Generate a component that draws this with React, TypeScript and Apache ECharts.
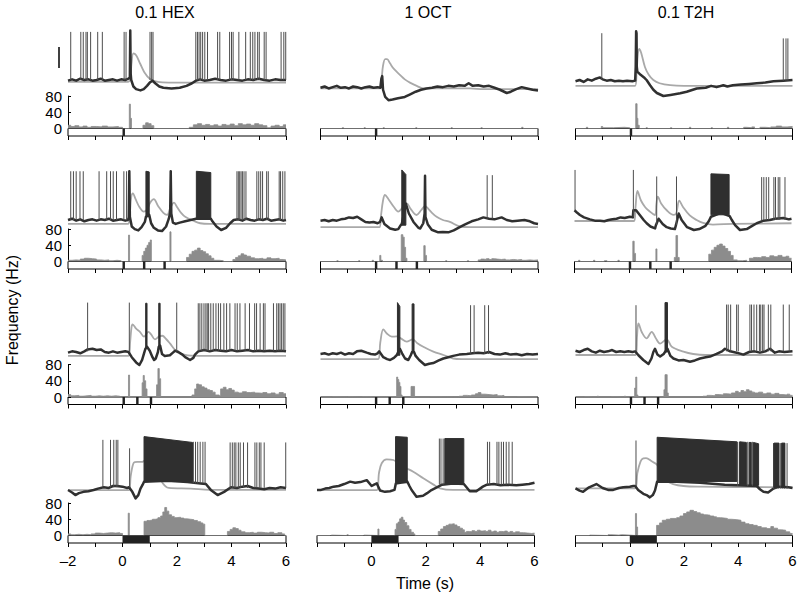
import React, { useEffect, useRef } from 'react';
import * as echarts from 'echarts';

// ---------------- data ----------------
const columnTitles = ['0.1 HEX', '1 OCT', '0.1 T2H'];
const xTicks = [-2, -1, 0, 1, 2, 3, 4, 5, 6];
const histTicks = [0, 40, 80];

// stimulus pulses per row: [start, end] in s
const stimRow1 = [[0, 0.09]];
const stimRow2 = [[0, 0.09], [0.75, 0.84], [1.5, 1.59]];
const stimRow3 = [[0, 0.09], [0.5, 0.59], [1.0, 1.09]];
const stimRow4 = [[0, 1.0]];

// ---- Row 1 ----
const hexR1Vm = [[-2,19],[-1.85,21],[-1.7,19],[-1.55,22],[-1.4,20],[-1.25,21],[-1.1,19],[-0.95,20],[-0.8,22],[-0.65,19],[-0.5,20],[-0.35,21],[-0.2,19],[-0.05,21],[0.1,20],[0.22,22],[0.27,24],[0.285,96],[0.3,30],[0.32,20],[0.4,10],[0.5,6],[0.66,4],[0.78,6],[0.9,11],[1.0,16],[1.1,19],[1.2,15],[1.35,10],[1.5,8],[1.8,7],[2.1,8],[2.35,11],[2.55,15],[2.7,19],[2.85,21],[3.0,19],[3.2,20],[3.4,22],[3.6,20],[3.8,19],[4.0,21],[4.2,20],[4.4,19],[4.6,21],[4.8,20],[5.0,22],[5.2,20],[5.4,19],[5.6,21],[5.8,20],[6,20]];
const hexR1Ca = [[-2,17],[0.2,17],[0.28,22],[0.33,45],[0.4,61],[0.5,58],[0.65,45],[0.8,32],[1.0,22],[1.3,17],[1.7,16],[2.5,16],[6,16]];
const hexR1Spikes = [{ v: [20, 94], t: [-1.9,-1.53,-1.44,-1.34,-1.29,-1.17,-0.91,-0.74,0.06,0.13,1.01,1.07,1.12,2.69,2.75,2.81,2.87,2.94,3.02,3.12,3.49,3.57,3.93,4.0,4.06,4.27,4.52,4.69,4.78,4.86,4.96,5.02,5.2,5.27,5.82,5.92,5.99] }];
const hexR1Bursts: number[][] = [];
const hexR1Hist = [[-2,8],[-1.9,5],[-1.75,7],[-1.6,4],[-1.45,6],[-1.3,3],[-1.15,5],[-0.95,4],[-0.75,6],[-0.55,4],[-0.35,5],[-0.15,3],[0.0,0],[0.25,60],[0.29,25],[0.33,0],[0.75,8],[0.85,14],[0.95,12],[1.05,7],[1.15,0],[2.45,3],[2.6,9],[2.75,12],[2.9,8],[3.05,10],[3.2,7],[3.35,9],[3.5,6],[3.65,10],[3.8,8],[3.95,11],[4.1,7],[4.25,12],[4.4,9],[4.55,11],[4.7,8],[4.85,12],[5.0,9],[5.15,7],[5.3,2],[5.45,6],[5.6,8],[5.75,5],[5.9,9],[6,9]];

const octR1Vm = [[-2,8],[-1.85,10],[-1.7,7],[-1.55,9],[-1.4,11],[-1.25,8],[-1.1,9],[-0.95,7],[-0.8,10],[-0.65,9],[-0.5,7],[-0.35,9],[-0.2,10],[-0.05,8],[0.1,9],[0.2,8],[0.24,22],[0.27,26],[0.3,5],[0.38,-6],[0.5,-11],[0.65,-10],[0.85,-8],[1.1,-6],[1.3,-2],[1.5,2],[1.7,5],[1.9,7],[2.1,8],[2.3,10],[2.5,9],[2.7,11],[2.9,10],[3.1,12],[3.3,11],[3.45,15],[3.6,11],[3.8,12],[4.0,10],[4.2,11],[4.4,8],[4.6,5],[4.85,0],[5.0,2],[5.2,6],[5.4,9],[5.6,7],[5.8,5],[6,4]];
const octR1Ca = [[-2,7],[0.2,7],[0.25,22],[0.3,42],[0.38,52],[0.45,52],[0.55,46],[0.7,37],[0.92,28],[1.1,21],[1.29,16],[1.54,11],[1.78,7],[3.5,7],[4.0,6],[6,6]];
const octR1Spikes: { v: number[]; t: number[] }[] = [];
const octR1Bursts: number[][] = [];
const octR1Hist = [[-2,0],[-1.2,2],[-1.15,0],[-0.4,2],[-0.35,0],[0.3,2],[0.35,0],[1.5,2],[1.55,0],[2.8,2],[2.85,0],[3.9,2],[3.95,0],[5.4,3],[5.45,0],[6,0]];

const t2hR1Vm = [[-2,18],[-1.85,20],[-1.7,17],[-1.55,21],[-1.4,19],[-1.25,22],[-1.1,24],[-1.0,21],[-0.85,19],[-0.7,20],[-0.55,18],[-0.4,19],[-0.25,18],[-0.1,19],[0.1,18],[0.2,19],[0.22,40],[0.235,95],[0.25,92],[0.26,40],[0.28,33],[0.4,28],[0.55,23],[0.62,20],[0.75,12],[0.87,5],[1.0,0],[1.24,-4.6],[1.5,-3],[1.86,-0.5],[2.1,2],[2.47,7],[2.8,8],[3.0,11],[3.2,9],[3.45,12],[3.6,10],[3.8,12],[4.1,13],[4.4,14],[4.68,15],[5.0,16],[5.3,18],[5.66,19],[6,20]];
const t2hR1Ca = [[-2,11],[0.2,11],[0.25,30],[0.3,60],[0.35,68],[0.42,62],[0.56,40],[0.7,28],[0.87,20],[1.1,15],[1.49,12],[2,11],[6,11]];
const t2hR1Spikes = [{ v: [20, 92], t: [-1.03] }, { v: [19, 84], t: [5.66, 5.76, 5.83] }];
const t2hR1Bursts: number[][] = [];
const t2hR1Hist = [[-2,0],[-1.6,3],[-1.55,0],[-1.05,5],[-1.0,2],[-0.6,3],[-0.2,2],[0,0],[0.22,61],[0.27,25],[0.3,8],[0.35,0],[0.6,2],[0.65,0],[1.5,2],[1.55,0],[2.2,3],[2.25,0],[3.0,2],[3.05,0],[3.6,3],[3.65,0],[4.2,3],[4.3,2],[4.5,4],[4.6,0],[4.8,3],[5.0,2],[5.2,4],[5.4,6],[5.6,4],[5.8,5],[6,5]];

// ---- Row 2 ----
const hexR2Vm = [[-2,20],[-1.85,22],[-1.7,19],[-1.55,21],[-1.4,18],[-1.25,20],[-1.1,21],[-0.95,19],[-0.8,21],[-0.65,20],[-0.5,22],[-0.35,19],[-0.2,20],[-0.05,21],[0.1,19],[0.2,20],[0.23,24],[0.25,95],[0.27,25],[0.34,10],[0.45,6],[0.58,4],[0.7,9],[0.82,17],[0.86,25],[0.98,28],[1.05,15],[1.15,8],[1.3,4],[1.45,3],[1.6,10],[1.7,22],[1.75,32],[1.77,95],[1.79,30],[1.85,16],[1.95,14],[2.1,16],[2.3,18],[2.5,20],[2.7,22],[3.24,22],[3.3,18],[3.45,10],[3.62,4.6],[3.8,8],[3.95,15],[4.08,20],[4.25,21],[4.4,19],[4.55,22],[4.7,20],[4.85,19],[5.0,21],[5.15,20],[5.3,22],[5.45,19],[5.6,20],[5.75,21],[5.9,19],[6,20]];
const hexR2Ca = [[-2,14],[0.2,14],[0.26,25],[0.32,55],[0.38,61],[0.48,52],[0.62,40],[0.78,33],[0.9,36],[1.02,47],[1.15,52],[1.3,42],[1.5,31],[1.64,28],[1.75,38],[1.89,46.7],[2.0,40],[2.15,31],[2.3,25],[2.6,19],[2.85,15],[3.2,14],[6,14]];
const hexR2Spikes = [{ v: [20, 95], t: [-1.9,-1.8,-1.7,-1.56,-1.44,-0.86,-0.58,-0.44,-0.34,-0.22,0.05,0.15,4.2,4.25,4.3,4.35,4.4,4.46,4.53,4.93,5.0,5.07,5.14,5.29,5.35,5.75,5.8,5.88,5.96] }];
const hexR2Bursts = [[0.86,0.98,25,95,94],[2.71,3.24,22,95,93]];
const hexR2Hist = [[-2,3],[-1.85,4],[-1.7,3],[-1.55,6],[-1.4,8],[-1.25,7],[-1.1,6],[-0.95,4],[-0.8,3],[-0.65,4],[-0.5,2],[-0.35,3],[-0.2,2],[-0.05,0],[0.22,65],[0.26,0],[0.72,15],[0.78,25],[0.84,33],[0.9,40],[0.96,47],[1.02,53],[1.06,0],[1.74,73],[1.78,0],[2.35,10],[2.45,18],[2.55,25],[2.65,28],[2.75,33],[2.85,27],[2.95,24],[3.05,19],[3.15,14],[3.25,8],[3.35,3],[3.55,2],[3.7,0],[4.05,5],[4.15,10],[4.25,14],[4.35,19],[4.45,16],[4.55,13],[4.7,9],[4.85,7],[5.0,8],[5.15,6],[5.3,9],[5.45,7],[5.6,8],[5.75,5],[5.9,4],[6,4]];

const octR2Vm = [[-2,19],[-1.85,20],[-1.7,18],[-1.55,20],[-1.4,19],[-1.25,21],[-1.1,22],[-0.95,24],[-0.8,23],[-0.65,25],[-0.5,21],[-0.35,17],[-0.2,16],[-0.05,17],[0.1,15],[0.19,17],[0.25,24],[0.35,14],[0.56,7],[0.75,5],[0.86,6],[0.95,12],[0.99,14],[1.14,45],[1.25,30],[1.42,17],[1.6,8],[1.67,7],[1.78,15],[1.83,30],[1.845,88],[1.86,25],[1.95,13],[2.09,5],[2.33,1],[2.5,1.5],[2.7,1],[2.9,4],[3.07,8],[3.3,13],[3.56,18],[3.8,21],[3.99,24],[4.2,22],[4.4,21],[4.66,24],[4.85,20],[5.05,18],[5.25,19],[5.5,20],[5.7,18],[5.86,15],[6,14]];
const octR2Ca = [[-2,9],[0.17,9],[0.22,25],[0.3,50],[0.37,58.5],[0.5,52],[0.7,40],[0.86,33],[0.98,37],[1.08,44],[1.17,45.6],[1.3,38],[1.53,27.7],[1.7,35],[1.84,41.5],[1.95,38],[2.1,31],[2.27,25],[2.5,20],[2.76,17],[3.13,10],[3.5,9],[6,9]];
const octR2Spikes = [{ v: [22, 89], t: [4.13, 4.32] }];
const octR2Bursts = [[0.99,1.14,12,97,90]];
const octR2Hist = [[-2,0],[-1.4,2],[-1.35,0],[-0.6,2],[-0.55,0],[-0.1,3],[-0.05,0],[0.18,15],[0.22,3],[0.28,0],[0.97,66],[1.03,60],[1.08,35],[1.13,8],[1.18,0],[1.8,39],[1.85,15],[1.9,0],[2.6,2],[2.65,0],[3.4,2],[3.45,0],[3.8,4],[3.9,6],[4.0,5],[4.1,7],[4.2,5],[4.3,7],[4.4,6],[4.5,5],[4.65,6],[4.8,4],[4.95,5],[5.1,4],[5.25,5],[5.4,3],[5.55,4],[5.7,3],[5.85,4],[6,4]];

const t2hR2Vm = [[-2,35],[-1.9,31],[-1.8,27.7],[-1.65,24],[-1.43,21],[-1.25,19],[-1.06,19],[-0.9,18],[-0.75,20],[-0.6,21],[-0.45,22],[-0.3,24],[-0.15,23],[0.04,25],[0.15,24],[0.17,35],[0.27,35],[0.4,28],[0.55,20],[0.66,15],[0.8,10],[0.97,7],[1.0,12],[1.1,22],[1.25,14],[1.4,9],[1.55,7],[1.7,6],[1.74,12],[1.84,30],[1.95,20],[2.15,9],[2.4,4.6],[2.6,6],[2.83,11],[2.95,18],[3.03,25],[3.4,31],[3.72,26],[3.8,20],[3.92,12],[4.1,4.6],[4.35,6],[4.55,11],[4.72,15],[4.97,19],[5.2,20],[5.4,22],[5.7,23],[5.9,21],[6,22]];
const t2hR2Ca = [[-2,18.5],[0.2,18.5],[0.25,40],[0.32,64.6],[0.45,50],[0.6,40],[0.72,35],[0.97,27.7],[1.02,45],[1.07,56],[1.2,45],[1.4,35],[1.65,28],[1.75,30],[1.86,49.7],[2.0,40],[2.25,27],[2.5,20],[2.74,15.4],[3.1,13],[3.85,14],[6,15]];
const t2hR2Spikes = [{ v: [35, 97], t: [-1.98] }, { v: [25, 97], t: [0.17] }, { v: [12, 87], t: [1.03, 1.76] }, { v: [20, 86], t: [4.9,4.98,5.07,5.16,5.35,5.41,5.51,5.57,5.76] }];
const t2hR2Bursts = [[3.03,3.7,28,91,90]];
const t2hR2Hist = [[-2,0],[-1.85,3],[-1.8,0],[-1.3,3],[-1.25,0],[-0.9,2],[-0.8,0],[-0.4,3],[-0.35,0],[0.15,50],[0.2,20],[0.25,0],[1.0,31],[1.04,0],[1.68,10],[1.74,64],[1.8,10],[1.86,0],[2.95,18],[3.05,28],[3.15,35],[3.25,40],[3.35,43],[3.45,38],[3.55,32],[3.65,25],[3.75,15],[3.85,4],[4.0,2],[4.2,3],[4.35,0],[4.45,8],[4.6,10],[4.75,9],[4.9,12],[5.05,10],[5.2,14],[5.35,12],[5.5,15],[5.65,11],[5.8,13],[5.9,8],[6,8]];

// ---- Row 3 ----
const hexR3Vm = [[-2,19],[-1.85,21],[-1.7,20],[-1.55,18],[-1.4,21],[-1.28,24],[-1.1,25],[-0.95,23],[-0.8,24],[-0.65,20],[-0.5,19],[-0.35,21],[-0.2,19],[-0.05,20],[0.1,21],[0.22,20],[0.34,12],[0.5,4],[0.62,0],[0.72,8],[0.79,18],[0.84,25],[0.9,28],[1.0,22],[1.1,12],[1.16,7.7],[1.22,10],[1.3,20],[1.33,28],[1.38,30],[1.45,17],[1.55,14],[1.74,15],[1.85,19],[1.93,22],[2.05,20],[2.2,16],[2.3,12],[2.48,7.7],[2.6,11],[2.66,16],[2.78,21],[3,23],[3.2,21],[3.4,23],[3.6,22],[3.8,21],[4.0,23],[4.2,21],[4.4,22],[4.6,23],[4.8,21],[5.0,22],[5.2,21],[5.4,22],[5.6,21],[5.8,22],[6,21]];
const hexR3Ca = [[-2,14],[0.22,14],[0.28,35],[0.33,58],[0.37,62.6],[0.5,56],[0.64,51],[0.79,43.6],[0.95,51],[1.05,47],[1.19,39.5],[1.35,44],[1.46,45],[1.6,40],[1.74,33.3],[1.99,20.5],[2.3,15.4],[2.8,14],[6,14]];
const hexR3Spikes = [{ v: [21, 96], t: [-1.28, 0.25, 1.99] }, { v: [22, 95], t: [2.78,2.84,2.91,2.99,3.06,3.11,3.16,3.24,3.33,3.43,3.52,3.6,3.72,3.82,3.94,4.13,4.21,4.31,4.5,4.66,4.85,4.92,5.05,5.17,5.23,5.54,5.66,5.72,5.78,5.84,5.9,5.96] }];
const hexR3Bursts = [[0.85,0.9,25,95,95],[1.33,1.38,28,95,95]];
const hexR3Hist = [[-2,6],[-1.9,3],[-1.75,4],[-1.6,2],[-1.45,3],[-1.3,4],[-1.15,2],[-1.0,3],[-0.85,2],[-0.7,3],[-0.55,2],[-0.4,3],[-0.25,2],[-0.1,0],[0.22,54],[0.26,0],[0.72,35],[0.76,53],[0.8,40],[0.85,20],[0.9,0],[1.25,30],[1.3,70],[1.35,45],[1.4,0],[2.55,5],[2.65,20],[2.72,32],[2.8,30],[2.9,25],[3.0,22],[3.1,18],[3.2,16],[3.3,12],[3.4,5],[3.55,3],[3.6,20],[3.7,24],[3.8,18],[3.9,21],[4.0,17],[4.1,12],[4.25,10],[4.4,13],[4.55,11],[4.7,12],[4.85,10],[5.0,9],[5.15,11],[5.3,8],[5.45,10],[5.6,7],[5.75,11],[5.9,8],[6,8]];

const octR3Vm = [[-2,17],[-1.85,18],[-1.7,16],[-1.55,18],[-1.4,17],[-1.25,19],[-1.1,16],[-0.95,18],[-0.8,17],[-0.66,21],[-0.5,22],[-0.3,19],[-0.15,17],[0.0,16],[0.1,18],[0.16,21],[0.31,12],[0.45,9],[0.56,7.7],[0.7,11],[0.8,15],[0.92,25],[1.0,18],[1.11,10],[1.23,7.7],[1.32,15],[1.37,20],[1.44,20],[1.5,14],[1.63,7.7],[1.84,0],[2.0,2],[2.15,3],[2.35,7],[2.52,10],[2.7,12],[2.88,14],[3.1,16],[3.38,17],[3.6,18],[3.8,19],[4.0,18],[4.2,20],[4.4,17],[4.6,16],[4.8,18],[5.0,16],[5.2,17],[5.4,15],[5.6,17],[5.8,16],[6,17]];
const octR3Ca = [[-2,9],[0.12,9],[0.2,35],[0.31,54.8],[0.45,48],[0.62,43.6],[0.8,44],[0.95,41],[1.17,36],[1.39,39.5],[1.55,34],[1.78,28],[2.15,20.5],[2.52,15.4],[2.88,10],[3.2,9],[6,9]];
const octR3Spikes = [{ v: [17, 92], t: [3.52, 3.65, 4.04, 4.18] }];
const octR3Bursts = [[0.83,0.92,15,96,90],[1.37,1.44,20,94,94]];
const octR3Hist = [[-2,0],[-1.6,1],[-1.55,0],[-1.0,1],[-0.95,0],[-0.5,1],[-0.45,0],[0.5,1],[0.55,0],[0.8,49],[0.84,43],[0.88,36],[0.92,26],[0.96,5],[1.0,0],[1.33,26],[1.46,0],[2.0,1],[2.05,0],[3.1,2],[3.25,4],[3.4,3],[3.55,5],[3.7,8],[3.8,11],[3.9,7],[4.05,6],[4.2,5],[4.35,6],[4.5,3],[4.65,4],[4.75,0],[5.2,1],[5.25,0],[6,0]];

const t2hR3Vm = [[-2,22],[-1.85,20],[-1.7,23],[-1.55,25],[-1.4,21],[-1.25,19],[-1.1,22],[-0.95,20],[-0.8,21],[-0.65,23],[-0.5,20],[-0.35,21],[-0.2,20],[-0.05,21],[0.1,20],[0.2,21],[0.32,15],[0.5,7.7],[0.69,1.5],[0.8,10],[0.87,20],[0.93,25],[1.02,16],[1.12,13],[1.25,17],[1.3,20],[1.39,25],[1.5,14],[1.61,10],[1.8,7],[1.98,7.7],[2.22,5],[2.4,7],[2.59,10],[2.8,12],[2.96,13],[3.2,17],[3.4,21],[3.51,25],[3.7,21],[3.94,19],[4.19,16],[4.4,20],[4.6,21],[4.8,19],[5.0,21],[5.17,25],[5.35,19],[5.5,21],[5.7,20],[6,21]];
const t2hR3Ca = [[-2,15.4],[0.22,15.4],[0.27,45],[0.32,64],[0.45,50],[0.62,41],[0.81,51],[0.95,42],[1.12,33],[1.36,39.5],[1.55,28],[1.98,20.5],[2.34,16.9],[2.8,15.4],[6,15.4]];
const t2hR3Spikes = [{ v: [21, 92], t: [0.23] }, { v: [21, 93], t: [3.57,3.63,3.72,3.94,4.0,4.43,4.49,4.58,4.68,4.78,4.83,4.9,4.95,5.11,5.2,5.66,5.88] }];
const t2hR3Bursts = [[1.3,1.39,20,96,96]];
const t2hR3Hist = [[-2,0],[-1.7,1],[-1.65,0],[-1.2,2],[-1.15,0],[-0.7,1],[-0.65,0],[-0.2,2],[-0.15,0],[0.18,22],[0.22,49],[0.26,5],[0.3,0],[1.26,18],[1.3,55],[1.38,10],[1.42,0],[2.7,2],[2.85,4],[3.0,3],[3.15,6],[3.3,5],[3.45,8],[3.6,7],[3.75,10],[3.9,14],[4.0,11],[4.1,16],[4.2,13],[4.3,18],[4.4,15],[4.5,12],[4.6,10],[4.75,12],[4.9,8],[5.05,10],[5.2,7],[5.35,9],[5.5,6],[5.65,5],[5.8,7],[5.9,4],[6,4]];

// ---- Row 4 ----
const hexR4Vm = [[-2,13.8],[-1.85,10],[-1.73,6],[-1.6,9],[-1.43,11],[-1.25,12],[-1.06,13.8],[-0.9,16],[-0.69,18],[-0.5,17],[-0.35,20],[-0.2,20],[0.0,19],[0.17,17],[0.24,18],[0.36,11],[0.48,1],[0.58,6],[0.66,16],[0.74,22],[0.79,26.7],[1.64,28],[2.38,26],[2.87,24],[3.06,23],[3.24,14],[3.49,6],[3.73,11],[3.98,18],[4.2,17],[4.4,19],[4.59,20],[4.8,17],[5.0,16],[5.2,15],[5.4,17],[5.6,16],[5.8,18],[6,17]];
const hexR4Ca = [[-2,13.8],[0.24,13.8],[0.3,35],[0.42,56],[0.54,57],[0.72,57],[0.79,58.5],[1.0,50],[1.3,35],[1.7,17],[2.5,16],[3.2,14],[6,14]];
const hexR4Spikes = [{ v: [18, 91], t: [-0.72,-0.44,-0.32,-0.23,-0.17] }, { v: [18, 78], t: [0.26] }, { v: [24, 88], t: [2.6,2.68,2.76,2.85,2.95,3.03] }, { v: [17, 87], t: [3.95,4.03,4.1,4.16,4.25,4.32,4.44,4.59,4.86,4.93,5.02,5.08,5.2,5.99] }];
const hexR4Bursts = [[0.79,2.57,27,96,87]];
const hexR4Hist = [[-2,4],[-1.9,2],[-1.75,3],[-1.6,2],[-1.45,3],[-1.3,2],[-1.15,4],[-1.0,6],[-0.85,5],[-0.7,6],[-0.55,7],[-0.4,6],[-0.25,7],[-0.1,5],[0,0],[0.21,55],[0.25,0],[0.79,35],[0.9,37],[1.0,38],[1.1,40],[1.2,41],[1.3,44],[1.4,48],[1.48,58],[1.55,69],[1.62,60],[1.7,51],[1.8,47],[1.9,44],[2.0,45],[2.13,43],[2.25,41],[2.38,40],[2.5,39],[2.62,37],[2.75,34],[2.87,31],[2.95,28],[3.02,0],[3.85,10],[3.95,15],[4.05,19],[4.15,17],[4.25,13],[4.35,9],[4.5,7],[4.65,8],[4.8,6],[4.95,8],[5.1,7],[5.25,6],[5.4,8],[5.55,5],[5.7,7],[5.85,4],[5.95,0],[6,0]];

const octR4Vm = [[-2,13.8],[-1.85,14],[-1.7,16],[-1.55,17],[-1.39,19],[-1.2,20],[-1.0,23],[-0.78,26.7],[-0.6,25],[-0.4,26],[-0.17,29],[0.01,20],[0.1,22],[0.2,24],[0.32,13],[0.5,11],[0.69,12],[0.85,14],[0.9,24],[1.32,27],[1.4,20],[1.48,13.8],[1.66,3.6],[1.9,5],[2.05,9],[2.21,13.8],[2.46,19],[2.6,22],[3.0,24],[3.4,23],[3.5,18],[3.62,12],[3.86,12],[4.1,19],[4.25,22],[4.5,23],[4.75,21],[5.0,22],[5.33,21],[5.55,22],[5.8,23],[6,25]];
const octR4Ca = [[-2,13.8],[0.2,13.8],[0.28,40],[0.38,55],[0.56,61],[0.81,60],[1.05,52],[1.3,47],[1.54,42],[1.91,31.8],[2.27,22.5],[2.52,16.4],[3,14],[6,14]];
const octR4Spikes = [{ v: [22, 93], t: [2.5, 2.56, 2.64] }, { v: [22, 88], t: [4.27,4.35,4.62,4.69,4.78,4.86,4.96,5.06,5.18] }];
const octR4Bursts = [[0.89,1.32,25,96,95],[2.7,3.4,24,93,93]];
const octR4Hist = [[-2,0],[-1.5,1],[-1.45,0],[-0.9,2],[-0.85,0],[-0.3,1],[-0.25,0],[0.24,16],[0.28,0],[0.87,15],[0.92,29],[0.98,33],[1.04,41],[1.1,45],[1.16,38],[1.22,32],[1.3,24],[1.38,15],[1.46,8],[1.55,4],[1.6,0],[2.46,10],[2.55,16],[2.65,22],[2.75,25],[2.85,28],[2.95,29],[3.05,26],[3.15,22],[3.25,18],[3.35,14],[3.42,8],[3.5,10],[3.6,9],[3.7,12],[3.8,10],[3.9,13],[4.0,11],[4.1,12],[4.2,10],[4.3,13],[4.4,9],[4.5,11],[4.6,8],[4.7,10],[4.8,9],[4.9,11],[5.0,8],[5.1,10],[5.2,7],[5.3,9],[5.45,7],[5.6,6],[5.75,5],[5.9,6],[6,6]];

const t2hR4Vm = [[-2,16.4],[-1.85,13],[-1.72,11],[-1.5,18],[-1.23,23],[-1.0,17],[-0.8,14],[-0.61,14],[-0.4,17],[-0.24,18],[0.0,19],[0.13,20],[0.2,20],[0.31,14],[0.5,8],[0.62,6],[0.74,2.5],[0.85,6],[0.93,13],[1.01,26.7],[1.5,27],[2.59,25],[3.5,22],[4.0,21],[4.68,20],[4.8,15],[4.93,11],[5.1,10],[5.3,16],[5.5,19],[5.85,18],[6,17]];
const t2hR4Ca = [[-2,16.4],[0.2,16.4],[0.28,40],[0.4,58],[0.5,62.6],[0.6,63],[0.81,58],[1.02,52],[1.2,35],[1.36,28],[1.6,23],[1.98,20],[2.5,19],[6,18]];
const t2hR4Spikes = [{ v: [20, 90], t: [0.23] }, { v: [20, 88], t: [3.98, 4.35, 4.52] }, { v: [16, 86], t: [5.3,5.36,5.42,5.48,5.55,5.62,5.7,5.8] }];
const t2hR4Bursts = [[1.01,3.95,27,95,88],[4.05,4.3,22,88,87],[4.4,4.48,21,87,87],[4.56,4.75,21,87,85],[5.32,5.5,18,86,86],[5.6,5.72,18,86,86]];
const t2hR4Hist = [[-2,0],[-1.5,1],[-1.45,0],[-0.8,2],[-0.7,1],[-0.4,2],[-0.3,1],[0,0],[0.21,54],[0.25,21],[0.29,0],[0.99,25],[1.1,31],[1.2,37.5],[1.35,40],[1.5,42],[1.73,44],[1.85,48],[1.98,54],[2.1,58],[2.22,62],[2.35,59],[2.47,56],[2.6,53],[2.72,51],[2.84,50],[2.96,48],[3.1,46],[3.2,44],[3.35,43],[3.48,42],[3.6,40],[3.75,39],[3.95,37.5],[4.1,33],[4.25,29],[4.4,27],[4.55,25],[4.7,22],[4.85,19],[5.05,17],[5.2,22],[5.3,18],[5.45,14],[5.6,13],[5.75,9],[5.9,5],[6,5]];

const rowStims = [stimRow1, stimRow2, stimRow3, stimRow4];
const panels = [
  [hexR1Vm, hexR1Ca, hexR1Spikes, hexR1Bursts, hexR1Hist],
  [octR1Vm, octR1Ca, octR1Spikes, octR1Bursts, octR1Hist],
  [t2hR1Vm, t2hR1Ca, t2hR1Spikes, t2hR1Bursts, t2hR1Hist],
  [hexR2Vm, hexR2Ca, hexR2Spikes, hexR2Bursts, hexR2Hist],
  [octR2Vm, octR2Ca, octR2Spikes, octR2Bursts, octR2Hist],
  [t2hR2Vm, t2hR2Ca, t2hR2Spikes, t2hR2Bursts, t2hR2Hist],
  [hexR3Vm, hexR3Ca, hexR3Spikes, hexR3Bursts, hexR3Hist],
  [octR3Vm, octR3Ca, octR3Spikes, octR3Bursts, octR3Hist],
  [t2hR3Vm, t2hR3Ca, t2hR3Spikes, t2hR3Bursts, t2hR3Hist],
  [hexR4Vm, hexR4Ca, hexR4Spikes, hexR4Bursts, hexR4Hist],
  [octR4Vm, octR4Ca, octR4Spikes, octR4Bursts, octR4Hist],
  [t2hR4Vm, t2hR4Ca, t2hR4Spikes, t2hR4Bursts, t2hR4Hist],
] as any[];

// ---------------- layout ----------------
const FONT = "'Liberation Sans', Arial, Helvetica, sans-serif";
const colLeft = [[68, 320.5, 575.5], [68, 320.5, 574.5], [68, 320.5, 575.5], [68, 317, 575.5]];
const colWidth = [218, 217.5, 217];
const traceTop = [28, 168, 300, 434];
const traceH = 78; // -20..100
const histTop = [96, 229, 364.5, 503];
const histH = 32.5;
const boxH = 7.5;
const titleX = [165, 428, 686];

function buildOption() {
  const grid: any[] = [];
  const xAxis: any[] = [];
  const yAxis: any[] = [];
  const series: any[] = [];
  for (let r = 0; r < 4; r++) {
    for (let c = 0; c < 3; c++) {
      const [vm, ca, spikes, bursts, hist] = panels[r * 3 + c];
      const left = colLeft[r][c];
      const width = colWidth[c];
      const g = grid.length;
      // trace grid
      grid.push({ left, top: traceTop[r], width, height: traceH });
      xAxis.push({ gridIndex: g, type: 'value', min: -2, max: 6, show: false });
      yAxis.push({ gridIndex: g, type: 'value', min: -20, max: 100, show: false });
      // hist grid
      grid.push({ left, top: histTop[r], width, height: histH });
      xAxis.push({ gridIndex: g + 1, type: 'value', min: -2, max: 6, show: false, axisLine: { onZero: false } });
      yAxis.push({
        gridIndex: g + 1, type: 'value', min: 0, max: 80, interval: 40, show: c === 0,
        axisLine: { show: true, onZero: false, lineStyle: { color: '#000', width: 1 } },
        axisTick: { show: true, inside: true, length: 3, lineStyle: { color: '#000' } },
        axisLabel: { show: true, color: '#000', fontSize: 15, fontFamily: FONT, margin: 6 },
        splitLine: { show: false },
      });
      // stimulus box grid
      grid.push({ left, top: histTop[r] + histH, width, height: boxH, show: true, borderColor: '#000', borderWidth: 1, backgroundColor: '#fff' });
      xAxis.push({
        gridIndex: g + 2, type: 'value', min: -2, max: 6, interval: 1,
        axisLine: { show: false, onZero: false },
        axisTick: { show: true, inside: false, length: 4, lineStyle: { color: '#000', width: 1 } },
        axisLabel: {
          show: r === 3, color: '#000', fontSize: 15, fontFamily: FONT, margin: 10,
          formatter: (v: number) => {
            if (!xTicks.includes(v) || v % 2 !== 0) return '';
            if (v < 0) return c === 0 ? '\u2013' + Math.abs(v) : '';
            return String(v);
          },
        },
        splitLine: { show: false },
      });
      yAxis.push({ gridIndex: g + 2, type: 'value', min: 0, max: 1, show: false, axisLine: { onZero: false } });

      series.push({
        type: 'line', xAxisIndex: g, yAxisIndex: g, data: ca, showSymbol: false, symbol: 'none',
        smooth: 0.35, lineStyle: { color: '#a9a9a9', width: 1.8 }, z: 2, silent: true,
      });
      series.push({
        type: 'line', xAxisIndex: g, yAxisIndex: g, data: vm, showSymbol: false, symbol: 'none',
        lineStyle: { color: '#303030', width: 2.5, join: 'round' }, z: 3, silent: true,
      });
      const spikeData = (spikes as any[]).flatMap((s) => s.t.map((t: number) => [t, s.v[0], s.v[1]]));
      if (spikeData.length) {
        series.push({
          type: 'custom', xAxisIndex: g, yAxisIndex: g, data: spikeData, z: 4, silent: true,
          encode: { x: 0, y: [1, 2] },
          renderItem: (_p: any, api: any) => {
            const a = api.coord([api.value(0), api.value(1)]);
            const b = api.coord([api.value(0), api.value(2)]);
            return { type: 'line', shape: { x1: a[0], y1: a[1], x2: b[0], y2: b[1] }, style: { stroke: '#4d4d4d', lineWidth: 1 } };
          },
        });
      }
      if ((bursts as any[]).length) {
        series.push({
          type: 'custom', xAxisIndex: g, yAxisIndex: g, data: bursts, z: 4, silent: true,
          encode: { x: [0, 1], y: [2, 3, 4] },
          renderItem: (_p: any, api: any) => {
            const t0 = api.value(0), t1 = api.value(1), b = api.value(2), h0 = api.value(3), h1 = api.value(4);
            const pts = [api.coord([t0, b]), api.coord([t0, h0]), api.coord([t1, h1]), api.coord([t1, b])];
            return { type: 'polygon', shape: { points: pts }, style: { fill: '#2f2f2f', stroke: '#2f2f2f', lineWidth: 1 } };
          },
        });
      }
      series.push({
        type: 'line', xAxisIndex: g + 1, yAxisIndex: g + 1, data: hist, step: 'end', showSymbol: false, symbol: 'none',
        lineStyle: { color: '#8c8c8c', width: 0.8 }, areaStyle: { color: '#8c8c8c', opacity: 1 }, z: 2, silent: true,
      });
      series.push({
        type: 'custom', xAxisIndex: g + 2, yAxisIndex: g + 2, data: rowStims[r], z: 4, silent: true,
        encode: { x: [0, 1] },
        renderItem: (_p: any, api: any) => {
          const a = api.coord([api.value(0), 1]);
          const b = api.coord([api.value(1), 0]);
          return { type: 'rect', shape: { x: a[0], y: a[1], width: Math.max(1.5, b[0] - a[0]), height: b[1] - a[1] }, style: { fill: '#222' } };
        },
      });
    }
  }

  const graphic: any[] = columnTitles.map((t, i) => ({
    type: 'text', x: titleX[i], y: 12,
    style: { text: t, fill: '#000', font: `16px ${FONT}`, textAlign: 'center', textVerticalAlign: 'middle' },
  }));
  graphic.push({
    type: 'text', x: 12, y: 310, rotation: Math.PI / 2,
    style: { text: 'Frequency (Hz)', fill: '#000', font: `16px ${FONT}`, textAlign: 'center', textVerticalAlign: 'middle' },
  });
  graphic.push({
    type: 'text', x: 425, y: 583,
    style: { text: 'Time (s)', fill: '#000', font: `16px ${FONT}`, textAlign: 'center', textVerticalAlign: 'middle' },
  });
  graphic.push({ type: 'line', shape: { x1: 59, y1: 47, x2: 59, y2: 68 }, style: { stroke: '#000', lineWidth: 1.5 } });

  return { animation: false, backgroundColor: '#fff', grid, xAxis, yAxis, series, graphic };
}

export default function App() {
  const ref = useRef<HTMLDivElement>(null);
  useEffect(() => {
    if (!ref.current) return;
    const chart = echarts.init(ref.current, undefined, { renderer: 'svg' });
    chart.setOption(buildOption() as any);
    return () => chart.dispose();
  }, []);
  return <div ref={ref} style={{ position: 'fixed', left: 0, top: 0, width: 800, height: 596, background: '#fff' }} />;
}
